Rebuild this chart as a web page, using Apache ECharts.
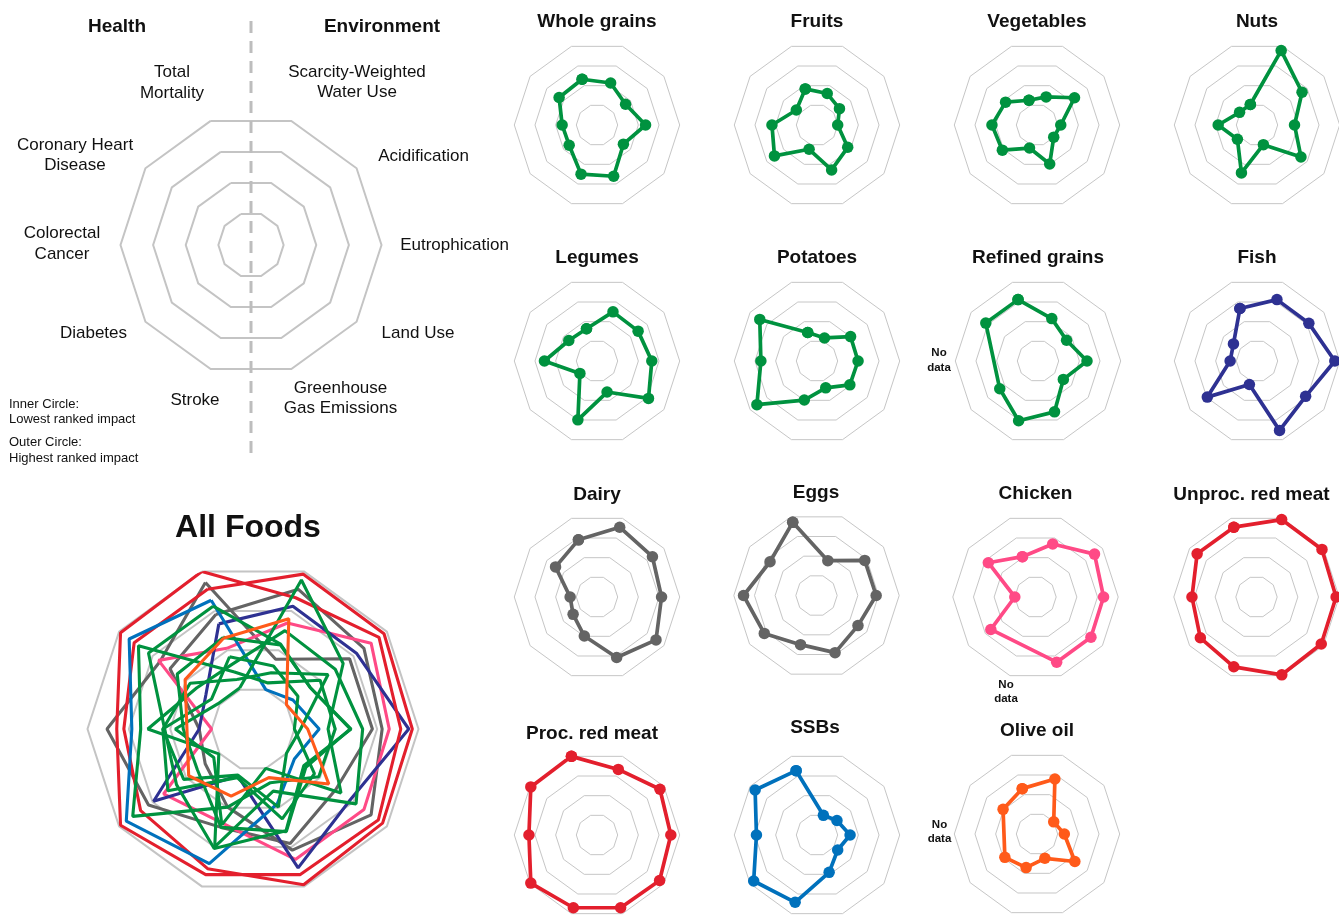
<!DOCTYPE html>
<html>
<head>
<meta charset="utf-8">
<script src="https://cdn.jsdelivr.net/npm/echarts@6/dist/echarts.min.js"></script>
<style>
html,body{margin:0;padding:0;background:#fff;}
#main{width:1339px;height:915px;}
</style>
</head>
<body>
<div id="main"></div>
<script>
// ---------------- DATA (rank of impact, 1 = lowest ... 15 = highest) ----------------
// axis order: Total Mortality, Coronary Heart Disease, Colorectal Cancer, Diabetes, Stroke,
//             Greenhouse Gas Emissions, Land Use, Eutrophication, Acidification, Scarcity-Weighted Water Use
const impacts = ['Total Mortality', 'Coronary Heart Disease', 'Colorectal Cancer', 'Diabetes', 'Stroke',
  'Greenhouse Gas Emissions', 'Land Use', 'Eutrophication', 'Acidification', 'Scarcity-Weighted Water Use'];
const foods = ['Whole grains', 'Fruits', 'Vegetables', 'Nuts', 'Legumes', 'Potatoes', 'Refined grains', 'Fish',
  'Dairy', 'Eggs', 'Chicken', 'Unproc. red meat', 'Proc. red meat', 'SSBs', 'Olive oil'];

const wholeGrains   = [7.2, 6.9, 4.2, 4.1, 8.0, 8.5, 3.7, 7.3, 4.3, 6.3];
const fruits        = [4.9, 2.1, 6.5, 8.2, 2.1, 7.0, 4.9, 1.0, 2.6, 3.8];
const vegetables    = [2.2, 5.1, 6.5, 6.0, 1.8, 5.6, 1.0, 1.7, 6.8, 3.0];
const nuts          = [1.2, 1.2, 5.1, 1.8, 7.7, 1.0, 8.6, 4.8, 8.9, 14.0];
const legumes       = [4.0, 4.2, 8.2, 1.1, 10.3, 3.7, 10.7, 8.7, 7.8, 8.0];
const potatoes      = [3.1, 12.3, 9.0, 13.1, 5.6, 2.7, 5.5, 5.6, 5.7, 1.8];
const refinedGrains = [10.9, 10.9, null, 7.0, 10.5, 8.4, 3.4, 7.4, 4.3, 6.4];
const fish          = [8.8, 2.9, 2.4, 10.2, 1.9, 12.8, 9.9, 13.9, 10.8, 10.9];
const dairy         = [9.9, 7.9, 2.4, 3.0, 5.6, 10.7, 12.8, 10.9, 11.8, 12.9];
const eggs          = [13.7, 9.3, 12.8, 10.9, 8.0, 9.9, 7.9, 9.8, 9.8, 4.6];
const chicken       = [5.9, 9.5, 1.0, 8.8, null, 11.8, 11.8, 11.7, 12.8, 8.9];
const unprocRedMeat = [12.9, 12.9, 10.9, 12.0, 12.9, 14.8, 14.4, 14.3, 14.6, 14.7];
const procRedMeat   = [15.0, 14.8, 11.7, 14.8, 13.6, 13.6, 13.8, 13.0, 13.9, 11.9];
const ssbs          = [11.6, 13.6, 10.0, 14.0, 12.3, 5.2, 2.1, 3.8, 1.9, 1.0];
const oliveOil      = [7.1, 5.8, null, 5.3, 4.3, 2.1, 6.9, 2.5, 1.0, 9.4];

const foodValues = [wholeGrains, fruits, vegetables, nuts, legumes, potatoes, refinedGrains, fish,
  dairy, eggs, chicken, unprocRedMeat, procRedMeat, ssbs, oliveOil];

// ---------------- STYLE / LAYOUT ----------------
const FONT = '"Liberation Sans", Arial, Helvetica, sans-serif';
const GREEN = '#00923f', NAVY = '#2e3192', GRAY = '#646464', PINK = '#ff4a86',
      RED = '#e31f2d', BLUE = '#0071bc', ORANGE = '#ff5a1a';
const foodColors = [GREEN, GREEN, GREEN, GREEN, GREEN, GREEN, GREEN, NAVY,
  GRAY, GRAY, PINK, RED, RED, BLUE, ORANGE];
const panelCenters = [
  [597, 125], [817, 125], [1037, 125], [1257, 125],
  [597, 361], [817, 361], [1038, 361], [1257, 361],
  [597, 597], [816.5, 595.5], [1035.5, 597], [1256.5, 597],
  [597, 835], [817, 835], [1037, 834]
];
const titlePos = [
  [597, 22], [817, 22], [1037, 22], [1257, 22],
  [597, 258], [817, 258], [1038, 257.5], [1257, 258],
  [597, 495], [816, 492.5], [1035.5, 493.5], [1251.5, 494.5],
  [592, 733.5], [815, 727.5], [1037, 731]
];
const SMALL_R = 82.7;
const LEGEND_CENTER = [251, 245], LEGEND_R = 130.5;
const ALL_CENTER = [253, 729], ALL_R = 165.5;
// inner ring = rank 1, outer ring = rank 15, 4 evenly spaced rings
const RANK_MAX = 15, RANK_AXIS_MIN = 1 - 14 / 3;

// ---------------- BUILD OPTION ----------------
function radarGrid(center, radius, color, width) {
  return {
    center: center, radius: radius, startAngle: 108, shape: 'polygon', splitNumber: 4,
    indicator: impacts.map(n => ({ name: n, min: 0, max: 4 })),
    axisName: { show: false },
    axisLine: { show: false }, axisTick: { show: false }, axisLabel: { show: false },
    splitArea: { show: false },
    splitLine: { lineStyle: { color: color, width: width } },
    silent: true
  };
}
const radars = [radarGrid(LEGEND_CENTER, LEGEND_R, '#c4c4c4', 2),
                radarGrid(ALL_CENTER, ALL_R, '#c4c4c4', 2)];
panelCenters.forEach(c => radars.push(radarGrid(c, SMALL_R, '#c6c6c6', 1)));

const polars = [], angleAxes = [], radiusAxes = [];
function addPolar(center, radius) {
  const idx = polars.length;
  polars.push({ center: center, radius: radius });
  angleAxes.push({ polarIndex: idx, type: 'value', min: 0, max: impacts.length, startAngle: 108, clockwise: false,
    show: false, axisLine: { show: false }, axisTick: { show: false }, axisLabel: { show: false }, splitLine: { show: false } });
  radiusAxes.push({ polarIndex: idx, type: 'value', min: RANK_AXIS_MIN, max: RANK_MAX,
    show: false, axisLine: { show: false }, axisTick: { show: false }, axisLabel: { show: false }, splitLine: { show: false } });
  return idx;
}
function toPolarData(vals) {
  const d = vals.map((v, i) => [v == null ? '-' : v, i]);
  d.push([vals[0], impacts.length]); // close the loop
  return d;
}

const allIdx = addPolar(ALL_CENTER, ALL_R);
const series = [];
// All Foods overlay (draw order)
const allOrder = [8, 9, 10, 7, 11, 12, 13, 0, 1, 2, 3, 4, 5, 6, 14];
allOrder.forEach(fi => {
  series.push({
    type: 'line', name: foods[fi], coordinateSystem: 'polar', polarIndex: allIdx,
    data: toPolarData(foodValues[fi]), connectNulls: true, showSymbol: false, symbol: 'none',
    clip: false, z: 3, silent: true,
    lineStyle: { color: foodColors[fi], width: 3.1 }
  });
});
// individual panels
foods.forEach((f, fi) => {
  const pi = addPolar(panelCenters[fi], SMALL_R);
  series.push({
    type: 'line', name: f, coordinateSystem: 'polar', polarIndex: pi,
    data: toPolarData(foodValues[fi]), connectNulls: true,
    symbol: 'circle', symbolSize: 11.5, showSymbol: true, clip: false, z: 3, silent: true,
    itemStyle: { color: foodColors[fi] },
    lineStyle: { color: foodColors[fi], width: 3.7 }
  });
});

// ---------------- TEXT ----------------
const graphics = [];
function txt(x, y, text, size, weight, align, lh) {
  graphics.push({
    type: 'text', x: x, y: y, z: 10, silent: true,
    style: { text: text, fill: '#111', fontSize: size, fontWeight: weight || 'normal', fontFamily: FONT,
      align: align || 'center', verticalAlign: 'middle', lineHeight: lh || Math.round(size * 1.22) }
  });
}
// dashed divider of the legend
graphics.push({ type: 'line', z: 9, silent: true,
  shape: { x1: 251, y1: 21, x2: 251, y2: 455 },
  style: { stroke: '#bdbdbd', lineWidth: 3, lineDash: [12, 8] } });

txt(117, 27, 'Health', 19, 'bold');
txt(382, 27, 'Environment', 19, 'bold');
txt(172, 83, 'Total\nMortality', 17, 'normal', 'center', 21);
txt(75, 155.5, 'Coronary Heart\nDisease', 17, 'normal', 'center', 20);
txt(62, 244, 'Colorectal\nCancer', 17, 'normal', 'center', 21);
txt(93.5, 333.5, 'Diabetes', 17);
txt(195, 400, 'Stroke', 17);
txt(357, 82.5, 'Scarcity-Weighted\nWater Use', 17, 'normal', 'center', 20.5);
txt(423.5, 156, 'Acidification', 17);
txt(454.5, 245.5, 'Eutrophication', 17);
txt(418, 333.5, 'Land Use', 17);
txt(340.5, 398.5, 'Greenhouse\nGas Emissions', 17, 'normal', 'center', 20.5);
txt(9, 404, 'Inner Circle:', 13, 'normal', 'left');
txt(9, 419, 'Lowest ranked impact', 13, 'normal', 'left');
txt(9, 442, 'Outer Circle:', 13, 'normal', 'left');
txt(9, 458, 'Highest ranked impact', 13, 'normal', 'left');

txt(248, 528, 'All Foods', 32, 'bold');
foods.forEach((f, fi) => txt(titlePos[fi][0], titlePos[fi][1], f, 19, 'bold'));

txt(939, 360.5, 'No\ndata', 11.5, 'bold', 'center', 14.5);
txt(1006, 692, 'No\ndata', 11.5, 'bold', 'center', 14.5);
txt(939.5, 832, 'No\ndata', 11.5, 'bold', 'center', 14.5);

const option = {
  backgroundColor: '#ffffff',
  animation: false,
  radar: radars,
  polar: polars,
  angleAxis: angleAxes,
  radiusAxis: radiusAxes,
  series: series,
  graphic: graphics
};

const chart = echarts.init(document.getElementById('main'), null, { renderer: 'canvas', width: 1339, height: 915 });
chart.setOption(option);
</script>
</body>
</html>
